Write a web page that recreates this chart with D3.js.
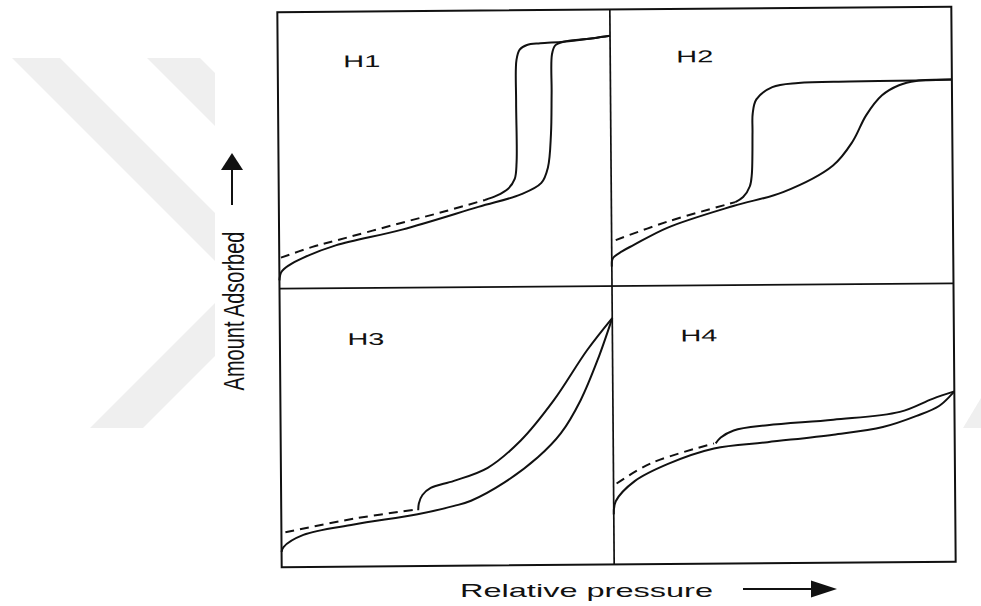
<!DOCTYPE html>
<meta charset="utf-8">
<style>
body { margin: 0; background: #fff; }
.frame { fill: none; stroke: #111; stroke-width: 2px; }
.divider { stroke: #111; stroke-width: 1.7px; }
.curve { fill: none; stroke: #111; stroke-width: 2px; }
.dash { fill: none; stroke: #111; stroke-width: 2px; stroke-dasharray: 9, 6; }
.lbl { font-family: "Liberation Sans", Arial, sans-serif; fill: #111; }
.mark { fill: #efefef; }
</style>
<body>
<script src="https://d3js.org/d3.v7.min.js"></script>
<script>

// isotherm branches
// x = relative pressure (0..1), y = amount adsorbed (0..1) inside each panel
var h1Ads = [[0,0.03],[0.006,0.06],[0.03,0.085],[0.07,0.11],[0.17,0.155],[0.37,0.21],[0.6,0.29],[0.73,0.335],[0.79,0.375],[0.81,0.43],[0.82,0.55],[0.823,0.7],[0.825,0.84],[0.835,0.872],[0.86,0.885],[0.95,0.897],[1.0,0.905]];
var h1Des = [[1.0,0.905],[0.95,0.897],[0.86,0.885],[0.79,0.88],[0.75,0.874],[0.728,0.858],[0.718,0.82],[0.716,0.67],[0.716,0.45],[0.71,0.39],[0.69,0.355],[0.655,0.33],[0.62,0.315]];
var h1Dash = [[0.005,0.112],[0.1,0.15],[0.17,0.172],[0.37,0.235],[0.5,0.275],[0.62,0.315]];

var h2Ads = [[0,0.07],[0.003,0.1],[0.03,0.125],[0.065,0.148],[0.163,0.209],[0.357,0.286],[0.503,0.335],[0.65,0.43],[0.708,0.516],[0.748,0.61],[0.795,0.682],[0.845,0.718],[0.895,0.733],[1.0,0.737]];
var h2Des = [[1.0,0.737],[0.895,0.735],[0.7,0.733],[0.55,0.729],[0.474,0.715],[0.427,0.671],[0.416,0.62],[0.415,0.552],[0.412,0.4],[0.406,0.357],[0.386,0.318],[0.363,0.3]];
var h2Dash = [[0.012,0.166],[0.163,0.231],[0.363,0.3]];

var h3Ads = [[0,0.055],[0.006,0.072],[0.066,0.115],[0.218,0.151],[0.41,0.186],[0.52,0.215],[0.571,0.233],[0.671,0.297],[0.773,0.387],[0.843,0.473],[0.903,0.591],[0.955,0.735],[1.0,0.885]];
var h3Des = [[1.0,0.885],[0.924,0.771],[0.822,0.591],[0.722,0.448],[0.622,0.351],[0.52,0.305],[0.45,0.28],[0.425,0.255],[0.414,0.225],[0.412,0.2]];
var h3Dash = [[0.012,0.125],[0.218,0.172],[0.41,0.204]];

var h4Ads = [[0,0.18],[0.006,0.227],[0.062,0.299],[0.16,0.36],[0.295,0.414],[0.452,0.435],[0.645,0.46],[0.79,0.486],[0.889,0.525],[0.956,0.561],[1.0,0.612]];
var h4Des = [[1.0,0.612],[0.936,0.586],[0.84,0.54],[0.645,0.514],[0.452,0.496],[0.353,0.478],[0.315,0.453],[0.3,0.432]];
var h4Dash = [[0.009,0.291],[0.111,0.363],[0.295,0.432]];

var panelNames = ["H1", "H2", "H3", "H4"];

// frame geometry (window.top is read-only, so use box* names)
var boxLeft = 279.5, boxRight = 953.5, boxTop = 9.5, boxBottom = 564.5,
    midX = 612, midY = 286;

var svg = d3.select("body").append("svg")
    .attr("width", 981)
    .attr("height", 606);

// faint watermark behind the figure
var marks = [
  [[12,58],[60,58],[215,213],[215,261]],
  [[147,58],[200,58],[215,73],[215,126]],
  [[90,428],[143,428],[215,356],[215,303]],
  [[963,428],[981,428],[981,398]]
];
svg.selectAll(".mark").data(marks).enter().append("polygon")
    .attr("class", "mark")
    .attr("points", function(d) { return d.join(" "); });

// the figure is scanned slightly tilted
var g = svg.append("g")
    .attr("transform", "rotate(-0.45," + ((boxLeft + boxRight) / 2) + "," + ((boxTop + boxBottom) / 2) + ")");

var panels = [
  {name: panelNames[0], x0: boxLeft, x1: midX, y0: boxTop, y1: midY, ads: h1Ads, des: h1Des, dash: h1Dash, lx: 345, ly: 65},
  {name: panelNames[1], x0: midX, x1: boxRight, y0: boxTop, y1: midY, ads: h2Ads, des: h2Des, dash: h2Dash, lx: 678, ly: 63},
  {name: panelNames[2], x0: boxLeft, x1: midX, y0: midY, y1: boxBottom, ads: h3Ads, des: h3Des, dash: h3Dash, lx: 347, ly: 343},
  {name: panelNames[3], x0: midX, x1: boxRight, y0: midY, y1: boxBottom, ads: h4Ads, des: h4Des, dash: h4Dash, lx: 680, ly: 342}
];

panels.forEach(function(p) {
  var x = d3.scaleLinear().domain([0, 1]).range([p.x0, p.x1]);
  var y = d3.scaleLinear().domain([0, 1]).range([p.y1, p.y0]);

  var line = d3.line()
      .curve(d3.curveCatmullRom.alpha(0.5))
      .x(function(d) { return x(d[0]); })
      .y(function(d) { return y(d[1]); });

  g.append("path").datum(p.dash).attr("class", "dash").attr("d", line);
  g.append("path").datum(p.ads).attr("class", "curve").attr("d", line);
  g.append("path").datum(p.des).attr("class", "curve").attr("d", line);

  g.append("text")
      .attr("class", "lbl")
      .attr("x", p.lx)
      .attr("y", p.ly)
      .attr("font-size", "17px")
      .attr("textLength", 37)
      .attr("lengthAdjust", "spacingAndGlyphs")
      .text(p.name);
});

// frame and dividers
g.append("line").attr("class", "divider")
    .attr("x1", midX).attr("x2", midX).attr("y1", boxTop).attr("y2", boxBottom);
g.append("line").attr("class", "divider")
    .attr("x1", boxLeft).attr("x2", boxRight).attr("y1", midY).attr("y2", midY);
g.append("rect").attr("class", "frame")
    .attr("x", boxLeft).attr("y", boxTop)
    .attr("width", boxRight - boxLeft).attr("height", boxBottom - boxTop);

// axis titles
svg.append("text")
    .attr("class", "lbl")
    .attr("transform", "translate(244,311) scale(1.45,1) rotate(-90)")
    .attr("text-anchor", "middle")
    .attr("font-size", "20px")
    .text("Amount Adsorbed");

svg.append("text")
    .attr("class", "lbl")
    .attr("x", 460)
    .attr("y", 597)
    .attr("font-size", "19px")
    .attr("textLength", 253)
    .attr("lengthAdjust", "spacingAndGlyphs")
    .text("Relative pressure");

// arrows
svg.append("line")
    .attr("x1", 232).attr("x2", 232).attr("y1", 205).attr("y2", 166)
    .attr("stroke", "#111").attr("stroke-width", 2);
svg.append("polygon")
    .attr("points", "232,153 221,170 243,170")
    .attr("fill", "#111");

svg.append("line")
    .attr("x1", 743).attr("x2", 815).attr("y1", 589).attr("y2", 589)
    .attr("stroke", "#111").attr("stroke-width", 2);
svg.append("polygon")
    .attr("points", "837,589 811,580.5 811,597.5")
    .attr("fill", "#111");

</script>
</body>
